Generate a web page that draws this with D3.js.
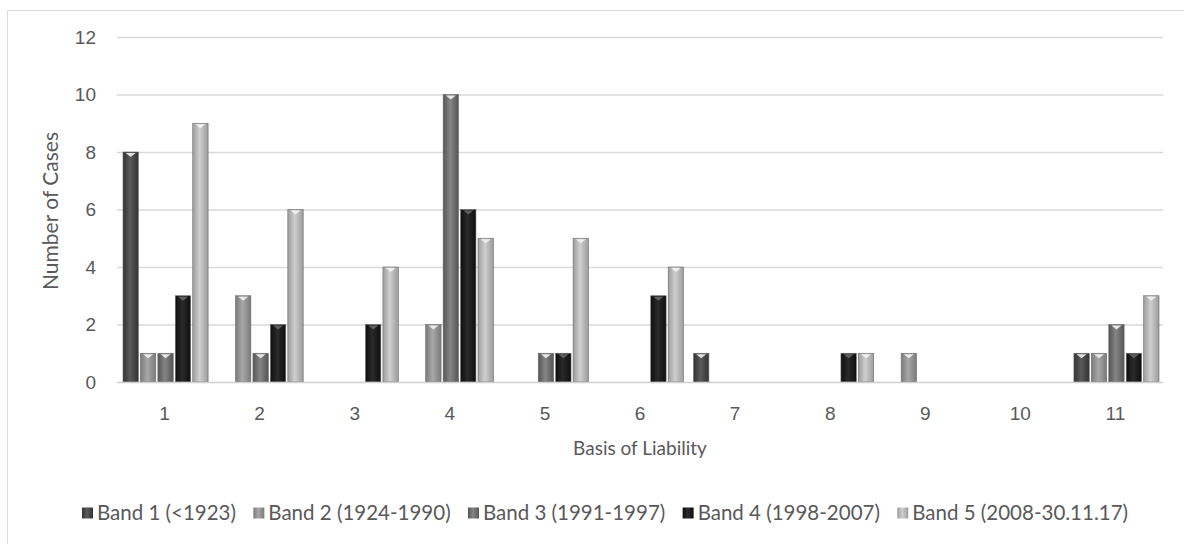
<!DOCTYPE html>
<html>
<head>
<meta charset="utf-8">
<script src="https://cdn.jsdelivr.net/npm/d3@7"></script>
<style>
  body { margin: 0; background: #fff; }
  svg { font-family: Lato, "Open Sans", sans-serif; }
</style>
</head>
<body>
<svg id="chart"></svg>
<script>
const categories = ["1", "2", "3", "4", "5", "6", "7", "8", "9", "10", "11"];
const bands = ["Band 1 (<1923)", "Band 2 (1924-1990)", "Band 3 (1991-1997)", "Band 4 (1998-2007)", "Band 5 (2008-30.11.17)"];
const band1 = [8, 0, 0, 0, 0, 0, 1, 0, 0, 0, 1];
const band2 = [1, 3, 0, 2, 0, 0, 0, 0, 1, 0, 1];
const band3 = [1, 1, 0, 10, 1, 0, 0, 0, 0, 0, 2];
const band4 = [3, 2, 2, 6, 1, 3, 0, 1, 0, 0, 1];
const band5 = [9, 6, 4, 5, 5, 4, 0, 1, 0, 0, 3];
const yTicks = [0, 2, 4, 6, 8, 10, 12];

const seriesValues = [band1, band2, band3, band4, band5];
// edge / middle shades for the cylinder look
const shades = [
    ["#333", "#5a5a5a"],
    ["#7a7a7a", "#a8a8a8"],
    ["#555", "#858585"],
    ["#0e0e0e", "#2a2a2a"],
    ["#9c9c9c", "#cfcfcf"]
];

const width = 1184, height = 544;
const margin = {left: 117, right: 21, top: 37, bottom: 162};
const textColor = "#595959";
const fontSize = 19;

let svg = d3.select("#chart")
    .attr("width", width)
    .attr("height", height);

let defs = svg.append("defs");
shades.forEach((s, i) => {
    let g = defs.append("linearGradient")
        .attr("id", "grad" + i)
        .attr("x1", "0%").attr("x2", "100%")
        .attr("y1", "0%").attr("y2", "0%");
    g.append("stop").attr("offset", "0%").attr("stop-color", s[0]);
    g.append("stop").attr("offset", "45%").attr("stop-color", s[1]);
    g.append("stop").attr("offset", "100%").attr("stop-color", s[0]);
});

// chart border (right and bottom edges are off the picture)
svg.append("path")
    .attr("d", "M7.5,600 V10.5 H1200")
    .attr("fill", "none")
    .attr("stroke", "#d9d9d9");

let x0 = d3.scaleBand()
    .domain(categories)
    .range([margin.left, width - margin.right])
    .paddingInner(0)
    .paddingOuter(0);

let x1 = d3.scaleBand()
    .domain(d3.range(bands.length))
    .range([6, x0.bandwidth() - 4])
    .paddingInner(0.12);

let y = d3.scaleLinear()
    .domain([0, 12])
    .range([height - margin.bottom, margin.top]);

// gridlines
svg.append("g")
    .selectAll("line")
    .data(yTicks.filter(d => d > 0))
    .enter().append("line")
    .attr("x1", margin.left)
    .attr("x2", width - margin.right)
    .attr("y1", d => y(d) + 0.5)
    .attr("y2", d => y(d) + 0.5)
    .attr("stroke", "#d9d9d9")
    .attr("stroke-width", 1.3);

// y axis labels
let yAxis = svg.append("g")
    .attr("transform", "translate(" + (margin.left - 21) + ",0)")
    .call(d3.axisLeft(y).tickValues(yTicks).tickSize(0).tickPadding(0));
yAxis.select(".domain").remove();
yAxis.selectAll("text")
    .attr("fill", textColor)
    .attr("font-size", fontSize);

// bars
let groups = svg.append("g")
    .selectAll("g")
    .data(categories)
    .enter().append("g")
    .attr("transform", d => "translate(" + x0(d) + ",0)");

let bars = groups.selectAll("g")
    .data((c, ci) => seriesValues.map((vals, si) => ({s: si, v: vals[ci]})).filter(d => d.v > 0))
    .enter().append("g");

bars.append("rect")
    .attr("x", d => x1(d.s))
    .attr("y", d => y(d.v))
    .attr("width", x1.bandwidth())
    .attr("height", d => y(0) - y(d.v))
    .attr("fill", d => "url(#grad" + d.s + ")")
    .attr("stroke", "#6a6a6a")
    .attr("stroke-width", 0.6);

// small bevel notch on top of each bar
bars.append("path")
    .attr("d", d => {
        let cx = x1(d.s) + x1.bandwidth() / 2, ty = y(d.v) + 1;
        return "M" + (cx - 5) + "," + ty + " L" + (cx + 5) + "," + ty + " L" + cx + "," + (ty + 4) + " Z";
    })
    .attr("fill", d => d.s === 3 ? "#666" : "#f2f2f2")
    .attr("opacity", 0.9);

// x axis
svg.append("line")
    .attr("x1", margin.left)
    .attr("x2", width - margin.right)
    .attr("y1", y(0) + 0.5)
    .attr("y2", y(0) + 0.5)
    .attr("stroke", "#d0d0d0")
    .attr("stroke-width", 1.3);

let xAxis = svg.append("g")
    .attr("transform", "translate(0," + (y(0) + 31) + ")")
    .call(d3.axisBottom(x0).tickSize(0).tickPadding(0));
xAxis.select(".domain").remove();
xAxis.selectAll("text")
    .attr("fill", textColor)
    .attr("font-size", fontSize)
    .attr("dy", "0.35em")
    .attr("y", 0);

// axis titles
svg.append("text")
    .attr("x", (margin.left + width - margin.right) / 2)
    .attr("y", 448)
    .attr("dy", "0.35em")
    .attr("text-anchor", "middle")
    .attr("fill", textColor)
    .attr("font-size", fontSize)
    .text("Basis of Liability");

svg.append("text")
    .attr("transform", "translate(51,211) rotate(-90)")
    .attr("dy", "0.35em")
    .attr("text-anchor", "middle")
    .attr("fill", textColor)
    .attr("font-size", 21)
    .text("Number of Cases");

// legend, spread between x=82 and x=1128
let legend = svg.append("g")
    .selectAll("g")
    .data(bands)
    .enter().append("g");

legend.append("rect")
    .attr("x", 0)
    .attr("y", -5.5)
    .attr("width", 11)
    .attr("height", 11)
    .attr("fill", (d, i) => "url(#grad" + i + ")");

legend.append("text")
    .attr("x", 15)
    .attr("dy", "0.35em")
    .attr("fill", textColor)
    .attr("font-size", 20.5)
    .text(d => d);

let itemW = [];
legend.each(function () { itemW.push(15 + d3.select(this).select("text").node().getComputedTextLength()); });
let legendGap = (1128 - 82 - d3.sum(itemW)) / (bands.length - 1);
let lx = 82;
legend.attr("transform", (d, i) => {
    let t = "translate(" + lx + ",513)";
    lx += itemW[i] + legendGap;
    return t;
});
</script>
</body>
</html>
